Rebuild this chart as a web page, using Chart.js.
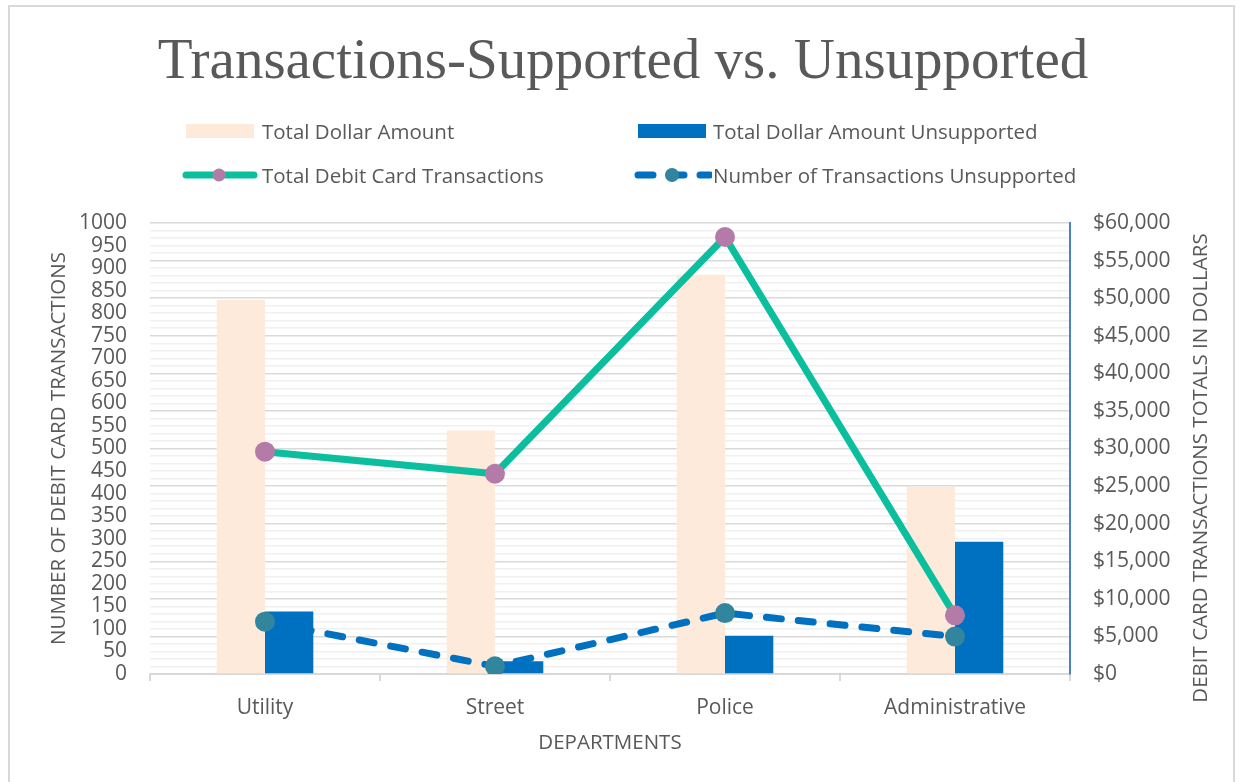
<!DOCTYPE html>
<html>
<head>
<meta charset="utf-8">
<script src="https://cdn.jsdelivr.net/npm/chart.js@4/dist/chart.umd.min.js"></script>
<style>
  body { margin: 0; background: #fff; }
  #wrap { position: relative; width: 1246px; height: 782px; overflow: hidden; }
  #frame { position: absolute; left: 8px; top: 5px; width: 1227px; height: 800px; border: 2px solid #d9d9d9; box-sizing: border-box; pointer-events: none; }
  .lg { position: absolute; font: 20.5px "Open Sans", sans-serif; color: #595959; white-space: nowrap; line-height: 24px; }
  .sw { position: absolute; }
</style>
</head>
<body>
<div id="wrap">
  <canvas id="chartContainer"></canvas>
  <div id="frame"></div>
  <div id="legend"></div>
</div>
<script>
"use strict";

// 1: data
let departments = ['Utility', 'Street', 'Police', 'Administrative'];
let totalDollars = [49800, 32400, 53100, 24900];
let unsupportedDollars = [8300, 1700, 5100, 17600];
let totalTransactions = [493, 444, 969, 130];
let unsupportedTransactions = [116, 17, 135, 83];

let seriesNames = ['Total Dollar Amount', 'Total Dollar Amount Unsupported',
  'Total Debit Card Transactions', 'Number of Transactions Unsupported'];

const textColor = '#595959';
const sans = '"Open Sans", sans-serif';

// 2: legend in html (a 2x2 grid, the built-in one can't do that)
function buildLegend() {
  let legend = document.getElementById('legend');
  let items = [
    { y: 131, text: seriesNames[0], sx: 186, sy: 123,
      svg: '<svg width="70" height="16"><rect x="0" y="1" width="68" height="14" fill="#fdeadb"/></svg>' },
    { y: 131, text: seriesNames[1], sx: 638, sy: 123,
      svg: '<svg width="70" height="16"><rect x="0" y="1" width="68" height="14" fill="#0070c0"/></svg>' },
    { y: 175, text: seriesNames[2], sx: 182, sy: 165,
      svg: '<svg width="80" height="20"><line x1="4" y1="10" x2="72" y2="10" stroke="#0bbf9e" stroke-width="7" stroke-linecap="round"/><circle cx="37" cy="10" r="6.5" fill="#b57ba8"/></svg>' },
    { y: 175, text: seriesNames[3], sx: 632, sy: 165,
      svg: '<svg width="80" height="20"><line x1="6" y1="10" x2="78" y2="10" stroke="#0070c0" stroke-width="7" stroke-linecap="round" stroke-dasharray="15 16"/><circle cx="40" cy="10" r="7" fill="#31859c"/></svg>' }
  ];
  let textX = [262, 713, 262, 713];
  items.forEach((it, i) => {
    let sw = document.createElement('div');
    sw.className = 'sw';
    sw.style.left = it.sx + 'px';
    sw.style.top = it.sy + 'px';
    sw.innerHTML = it.svg;
    legend.appendChild(sw);
    let t = document.createElement('div');
    t.className = 'lg';
    t.style.left = textX[i] + 'px';
    t.style.top = (it.y - 12) + 'px';
    t.textContent = it.text;
    legend.appendChild(t);
  });
}

// right axis title reads bottom-to-top, chart.js draws it the other way
const rightTitle = {
  id: 'rightTitle',
  afterDraw(chart) {
    const ctx = chart.ctx;
    ctx.save();
    ctx.translate(1201, 468);
    ctx.rotate(-Math.PI / 2);
    ctx.font = '20.5px ' + sans;
    ctx.fillStyle = textColor;
    ctx.textAlign = 'center';
    ctx.textBaseline = 'middle';
    ctx.fillText('DEBIT CARD TRANSACTIONS TOTALS IN DOLLARS', 0, 0);
    ctx.restore();
  }
};

// 3: create the chart
function appendChart() {
  let chartContainer = document.getElementById('chartContainer');
  let chart = new Chart(chartContainer, {
    type: 'bar',
    data: {
      labels: departments,
      datasets: [{
        type: 'line',
        label: seriesNames[2],
        data: totalTransactions,
        yAxisID: 'y',
        borderColor: '#0bbf9e',
        borderWidth: 7,
        pointRadius: 10,
        pointBackgroundColor: '#b57ba8',
        pointBorderWidth: 0,
        tension: 0,
        order: 1
      },
      {
        type: 'line',
        label: seriesNames[3],
        data: unsupportedTransactions,
        yAxisID: 'y',
        borderColor: '#0070c0',
        borderWidth: 7,
        borderDash: [15, 17],
        borderCapStyle: 'round',
        pointRadius: 10,
        pointBackgroundColor: '#31859c',
        pointBorderWidth: 0,
        tension: 0,
        order: 0
      },
      {
        label: seriesNames[0],
        data: totalDollars,
        yAxisID: 'y1',
        backgroundColor: '#fdeadb',
        categoryPercentage: 0.42,
        barPercentage: 1,
        order: 2
      },
      {
        label: seriesNames[1],
        data: unsupportedDollars,
        yAxisID: 'y1',
        backgroundColor: '#0070c0',
        categoryPercentage: 0.42,
        barPercentage: 1,
        order: 3
      }]
    },
    options: {
      responsive: true,
      maintainAspectRatio: false,
      animation: false,
      layout: { padding: 0 },
      plugins: {
        legend: { display: false },
        tooltip: { enabled: false },
        title: {
          display: true,
          text: 'Transactions-Supported vs. Unsupported',
          color: textColor,
          font: { family: '"Liberation Serif", serif', size: 57, weight: 'normal', lineHeight: 1.2 },
          padding: { top: 29, bottom: 125.6 }
        }
      },
      scales: {
        x: {
          afterFit(scale) { scale.height = 108; },
          grid: { display: true, drawOnChartArea: false, drawTicks: true, tickLength: 7, color: '#d9d9d9', lineWidth: 2, offset: true },
          border: { display: true, color: '#d9d9d9', width: 2 },
          ticks: { color: textColor, font: { family: sans, size: 21 }, padding: 14 },
          title: { display: true, text: 'DEPARTMENTS', color: textColor, font: { family: sans, size: 20.5 }, padding: { top: 0, bottom: 27 } }
        },
        y: {
          position: 'left',
          min: 0,
          max: 1000,
          afterFit(scale) { scale.width = 150; },
          grid: { display: false, drawTicks: false },
          border: { display: false },
          ticks: {
            stepSize: 50,
            autoSkip: false,
            color: textColor,
            font: { family: sans, size: 21, lineHeight: 1 },
            padding: 23,
            callback: (v) => String(v)
          },
          title: { display: true, text: 'NUMBER OF DEBIT CARD TRANSACTIONS', color: textColor, font: { family: sans, size: 20.5 }, padding: { top: 47, bottom: 0 } }
        },
        y1: {
          position: 'right',
          min: 0,
          max: 60000,
          afterFit(scale) { scale.width = 176; },
          grid: {
            drawTicks: false,
            color: (c) => (c.tick && c.tick.value % 5000 === 0) ? '#d9d9d9' : '#f0f0f0',
            lineWidth: 1.5
          },
          border: { display: true, color: '#4f81bd', width: 2 },
          ticks: {
            stepSize: 1000,
            autoSkip: false,
            color: textColor,
            font: { family: sans, size: 21, lineHeight: 1 },
            padding: 23,
            callback: (v) => v % 5000 === 0 ? '$' + v.toLocaleString('en-US') : ''
          }
        }
      }
    },
    plugins: [rightTitle]
  });
  return chart;
}

buildLegend();
appendChart();
</script>
</body>
</html>
